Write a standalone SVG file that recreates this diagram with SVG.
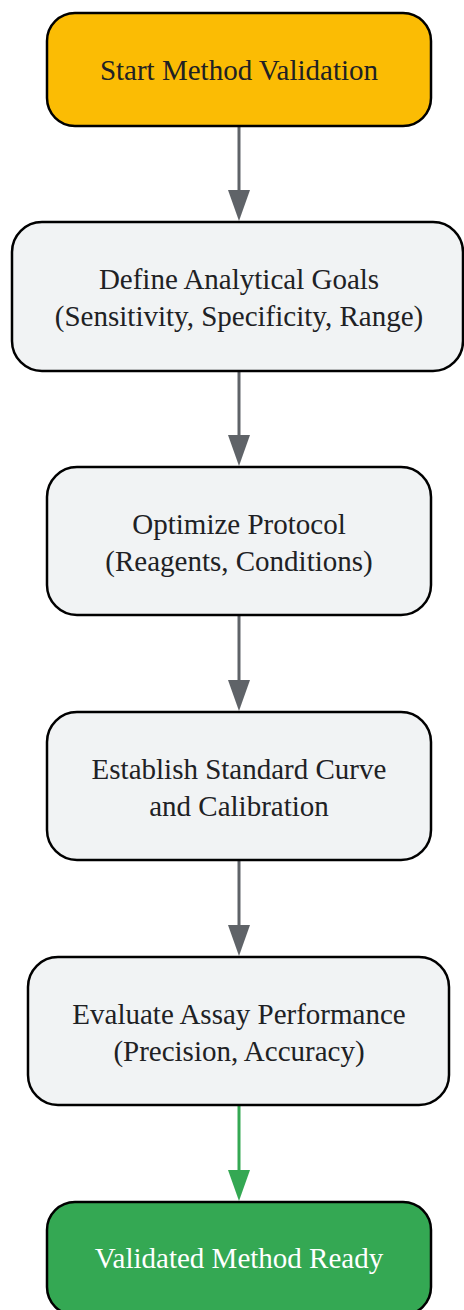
<svg xmlns="http://www.w3.org/2000/svg" width="464" height="1310" viewBox="0 0 464 1310">
<style>
.n{stroke:#000;stroke-width:2.5}
.t{font-family:"Liberation Serif",serif;font-size:29px;fill:#202124;text-anchor:middle}
.w{fill:#fff}
.e{stroke-width:3;fill:none}
</style>
<rect width="464" height="1310" fill="#fff"/>
<g id="connectors">
<line class="e" x1="239" y1="126" x2="239" y2="190" stroke="#5f6368"/><path d="M228,190 L250,190 L239,221 Z" fill="#5f6368"/>
<line class="e" x1="239" y1="371" x2="239" y2="435" stroke="#5f6368"/><path d="M228,435 L250,435 L239,466 Z" fill="#5f6368"/>
<line class="e" x1="239" y1="616" x2="239" y2="680" stroke="#5f6368"/><path d="M228,680 L250,680 L239,711 Z" fill="#5f6368"/>
<line class="e" x1="239" y1="861" x2="239" y2="925" stroke="#5f6368"/><path d="M228,925 L250,925 L239,956 Z" fill="#5f6368"/>
<line class="e" x1="239" y1="1106" x2="239" y2="1170" stroke="#34a853"/><path d="M228,1170 L250,1170 L239,1201 Z" fill="#34a853"/>
</g>
<g id="start"><rect class="n" x="47" y="13" width="384" height="113" rx="28" fill="#fbbc04"/><text class="t" x="239" y="80">Start Method Validation</text></g>
<g id="goals"><rect class="n" x="12" y="222" width="451" height="149" rx="30" fill="#f1f3f4"/><text class="t" x="239" y="289">Define Analytical Goals</text><text class="t" x="239" y="326">(Sensitivity, Specificity, Range)</text></g>
<g id="optimize"><rect class="n" x="47" y="467" width="384" height="148" rx="30" fill="#f1f3f4"/><text class="t" x="239" y="534">Optimize Protocol</text><text class="t" x="239" y="571">(Reagents, Conditions)</text></g>
<g id="curve"><rect class="n" x="47" y="712" width="384" height="148" rx="30" fill="#f1f3f4"/><text class="t" x="239" y="779">Establish Standard Curve</text><text class="t" x="239" y="816">and Calibration</text></g>
<g id="evaluate"><rect class="n" x="28" y="957" width="421" height="148" rx="30" fill="#f1f3f4"/><text class="t" x="239" y="1024">Evaluate Assay Performance</text><text class="t" x="239" y="1061">(Precision, Accuracy)</text></g>
<g id="ready"><rect class="n" x="47" y="1202" width="384" height="113" rx="28" fill="#34a853"/><text class="t w" x="239" y="1268">Validated Method Ready</text></g>
</svg>
